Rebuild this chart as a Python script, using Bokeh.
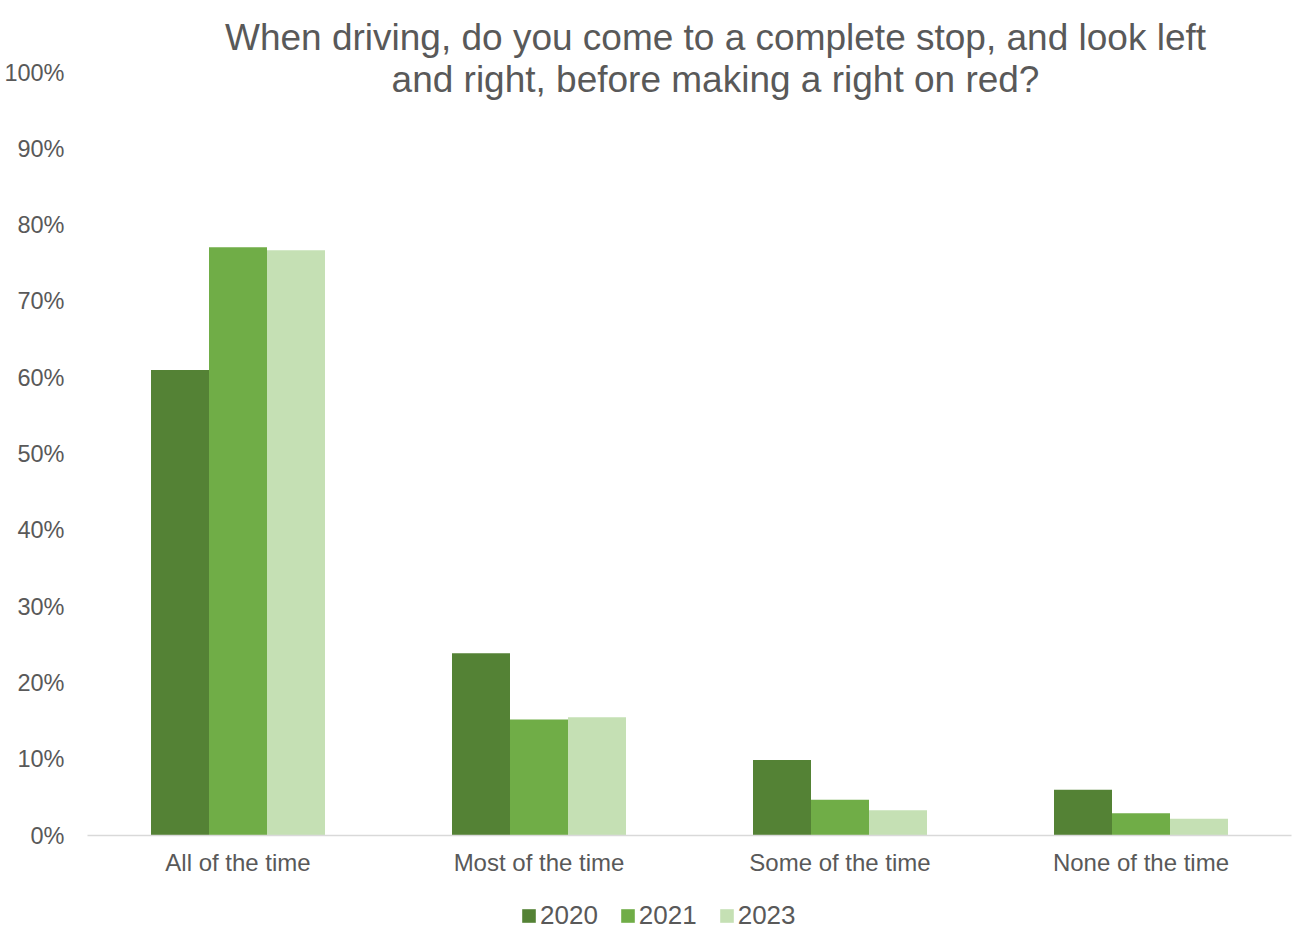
from bokeh.plotting import figure
from bokeh.layouts import column
from bokeh.models import (ColumnDataSource, FactorRange, Range1d, FixedTicker, PrintfTickFormatter,
                          Label, Legend, LegendItem)
from bokeh.transform import dodge
from bokeh.embed import file_html
from bokeh.resources import INLINE

categories = ["All of the time", "Most of the time", "Some of the time", "None of the time"]
years = ["2020", "2021", "2023"]
v2020 = [61.0, 23.9, 9.9, 6.0]
v2021 = [77.1, 15.2, 4.7, 2.9]
v2023 = [76.7, 15.5, 3.3, 2.2]
colors = ["#548235", "#70AD47", "#C5E0B4"]
title_lines = ["When driving, do you come to a complete stop, and look left",
               "and right, before making a right on red?"]

src = ColumnDataSource(dict(cat=categories, y2020=v2020, y2021=v2021, y2023=v2023))

FONT = "Liberation Sans"
TXT = "#595959"

p = figure(x_range=FactorRange(*categories, range_padding=0),
           y_range=Range1d(0, 835 / 7.63),
           width=1296, height=880,
           min_border_left=87, min_border_right=5, min_border_top=0, min_border_bottom=45,
           output_backend="svg", toolbar_location=None, tools="")

bw = 58 / 301
for i, (yr, col) in enumerate(zip(years, colors)):
    p.vbar(x=dodge("cat", (i - 1) * bw, range=p.x_range), top="y" + yr, width=bw,
           source=src, fill_color=col, line_color=None)

p.outline_line_color = None
p.grid.grid_line_color = None
p.background_fill_color = "white"
p.border_fill_color = "white"

p.yaxis.ticker = FixedTicker(ticks=list(range(0, 101, 10)))
p.yaxis.formatter = PrintfTickFormatter(format="%d%%")
p.yaxis.axis_line_color = None
p.yaxis.major_tick_line_color = None
p.yaxis.minor_tick_line_color = None
p.yaxis.major_label_standoff = 17
p.yaxis.major_label_text_font = FONT
p.yaxis.major_label_text_font_size = "23.5px"
p.yaxis.major_label_text_color = TXT

p.xaxis.axis_line_color = "#D9D9D9"
p.xaxis.axis_line_width = 1.5
p.xaxis.major_tick_line_color = None
p.xaxis.minor_tick_line_color = None
p.xaxis.major_label_standoff = 7
p.xaxis.major_label_text_font = FONT
p.xaxis.major_label_text_font_size = "24px"
p.xaxis.major_label_text_color = TXT

tx = (715 - 87) / 301
for line, base in zip(title_lines, [36.7, 79]):
    p.add_layout(Label(x=tx, y=(835 - base) / 7.63, text=line, text_align="center",
                       text_baseline="alphabetic", text_font=FONT, text_font_size="37px",
                       text_color=TXT))

# legend strip below the chart
q = figure(width=1296, height=50, x_range=Range1d(0, 1), y_range=Range1d(0, 1),
           min_border=0, x_axis_location=None, y_axis_location=None,
           output_backend="svg", toolbar_location=None, tools="")
q.outline_line_color = None
q.grid.grid_line_color = None
q.border_fill_color = "white"
offscreen = ColumnDataSource(dict(x=[-10.0], top=[-10.0]))
items = []
for yr, col in zip(years, colors):
    r = q.vbar(x="x", top="top", width=0.1, source=offscreen, fill_color=col, line_color=None)
    items.append(LegendItem(label=yr, renderers=[r]))
lg = Legend(items=items, orientation="horizontal", location=(433, -1),
            padding=0, margin=0, spacing=21, border_line_color=None, background_fill_alpha=0,
            glyph_width=17, glyph_height=17, label_height=28, label_standoff=3,
            label_text_font=FONT, label_text_font_size="26px", label_text_color=TXT)
q.add_layout(lg, "center")

open("out.html", "w").write(file_html(column(p, q, spacing=0), INLINE))
